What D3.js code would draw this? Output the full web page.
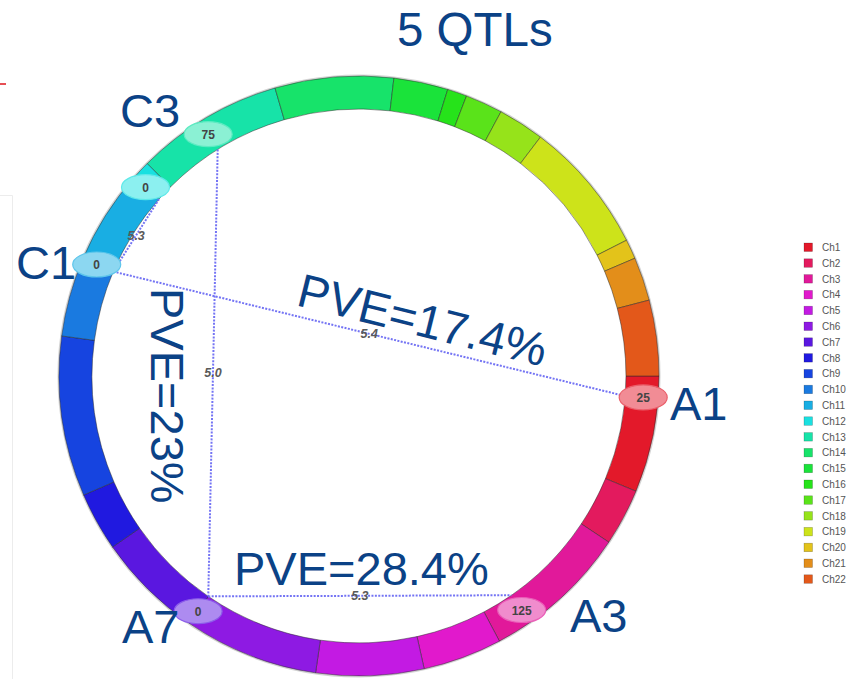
<!DOCTYPE html>
<html>
<head>
<meta charset="utf-8">
<script src="https://cdn.jsdelivr.net/npm/d3@7"></script>
<style>
  html, body { margin: 0; padding: 0; background: #ffffff; }
  svg { display: block; }
</style>
</head>
<body>
<svg id="chart" width="865" height="679"></svg>
<script>
// ---- data ---------------------------------------------------------------
const chromosomes = ["Ch1","Ch2","Ch3","Ch4","Ch5","Ch6","Ch7","Ch8","Ch9","Ch10","Ch11",
                     "Ch12","Ch13","Ch14","Ch15","Ch16","Ch17","Ch18","Ch19","Ch20","Ch21","Ch22"];
const chromLengths = [131, 64, 165, 89, 121, 151, 121, 66, 180, 89, 107,
                      21, 166, 133, 61, 22, 42, 52, 150, 22, 49, 85];
const chromColors = ["#e3192a","#e31a5e","#e1199a","#e119cc","#c31ae3","#8e1ae3","#5a17e0",
                     "#2019e0","#1644e0","#1a7ae0","#19aee3","#19e0e0","#17e3a8","#17e36a",
                     "#1ae33a","#26e31a","#5ae31a","#96e31a","#cde31a","#e3c31a","#e38e1a","#e3581a"];

const qtlIds       = ["A1","A3","A7","C1","C2","C3"];
const qtlChroms    = ["Ch1","Ch3","Ch7","Ch11","Ch12","Ch13"];
const qtlPositions = [25, 125, 0, 0, 0, 75];
const qtlGroupLabels = ["A1","A3","A7","C1","","C3"];

const linkSources = ["C3","C1","A7","C2"];
const linkTargets = ["A7","A1","A3","C1"];
const linkScores  = [5.0, 5.4, 5.3, 5.3];

const pveValues = [17.4, 23, 28.4];
const titleText = "5 QTLs";

// ---- layout -------------------------------------------------------------
const svg = d3.select("#chart");
const cx = 359, cy = 376;
const rInner = 267, rOuter = 300, rMarker = 285, rLink = 267;
const blue = "#0b4286";
const bigFont = "'Liberation Sans', Arial, sans-serif";

// faint panel edge and small red tick at the left margin
svg.append("path").attr("d", "M0,195.5H12.5V679")
   .attr("fill", "none").attr("stroke", "#ececec").attr("stroke-width", 1);
svg.append("line").attr("x1", 0).attr("x2", 6).attr("y1", 84).attr("y2", 84)
   .attr("stroke", "#e0242a").attr("stroke-width", 1.6);

// cumulative offsets along the genome and the angular scale
const offsets = {};
let acc = 0;
chromosomes.forEach((c, i) => { offsets[c] = acc; acc += chromLengths[i]; });
const total = acc;
const angle = d3.scaleLinear().domain([0, total]).range([Math.PI / 2, Math.PI / 2 + 2 * Math.PI]);
const color = d3.scaleOrdinal().domain(chromosomes).range(chromColors);

const g = svg.append("g").attr("transform", `translate(${cx},${cy})`);

// chromosome ring
const arc = d3.arc().innerRadius(rInner).outerRadius(rOuter);
g.append("circle").attr("r", rOuter + 0.6).attr("fill", "none")
 .attr("stroke", "#b5b5b5").attr("stroke-width", 1.8).attr("opacity", 0.6);
g.selectAll("path.chrom")
  .data(chromosomes)
  .join("path")
  .attr("class", "chrom")
  .attr("d", c => arc({ startAngle: angle(offsets[c]),
                        endAngle: angle(offsets[c] + chromLengths[chromosomes.indexOf(c)]) }))
  .attr("fill", c => color(c))
  .attr("stroke", "rgba(40,40,40,0.55)")
  .attr("stroke-width", 0.9);

// QTL positions
const polar = (a, r) => [r * Math.sin(a), -r * Math.cos(a)];
const qtls = qtlIds.map((id, i) => {
  const a = angle(offsets[qtlChroms[i]] + qtlPositions[i]);
  return { id, chrom: qtlChroms[i], pos: qtlPositions[i], a,
           marker: polar(a, rMarker), anchor: polar(a, rLink) };
});
const byId = Object.fromEntries(qtls.map(q => [q.id, q]));

// links between QTLs
const links = linkSources.map((s, i) => ({ s: byId[s], t: byId[linkTargets[i]], score: linkScores[i] }));
g.selectAll("line.link")
  .data(links)
  .join("line")
  .attr("class", "link")
  .attr("x1", d => d.s.anchor[0]).attr("y1", d => d.s.anchor[1])
  .attr("x2", d => d.t.anchor[0]).attr("y2", d => d.t.anchor[1])
  .attr("stroke", "#7474f4")
  .attr("stroke-width", 2)
  .attr("stroke-dasharray", "2,1.4");

g.selectAll("text.score")
  .data(links)
  .join("text")
  .attr("class", "score")
  .attr("x", d => (d.s.anchor[0] + d.t.anchor[0]) / 2)
  .attr("y", d => (d.s.anchor[1] + d.t.anchor[1]) / 2 + 4.5)
  .attr("text-anchor", "middle")
  .attr("font-family", bigFont)
  .attr("font-size", 12.5)
  .attr("font-style", "italic")
  .attr("font-weight", "bold")
  .attr("fill", "#5a5a5a")
  .text(d => d3.format(".1f")(d.score));

// QTL markers
const markers = g.selectAll("g.qtl").data(qtls).join("g")
  .attr("class", "qtl")
  .attr("transform", d => `translate(${d.marker[0]},${d.marker[1]})`);
markers.append("ellipse")
  .attr("rx", 24).attr("ry", 12.5)
  .attr("fill", d => d3.interpolateRgb(color(d.chrom), "#ffffff")(0.5))
  .attr("stroke", d => d3.interpolateRgb(color(d.chrom), "#ffffff")(0.3))
  .attr("stroke-width", 1.2);
markers.append("text")
  .attr("text-anchor", "middle")
  .attr("y", 4.5)
  .attr("font-family", bigFont)
  .attr("font-size", 12)
  .attr("font-weight", "bold")
  .attr("fill", "#444")
  .text(d => d.pos);

// group labels next to the markers
const labelAt = { A1: [670, 420], A3: [570, 632], A7: [122, 643], C1: [16, 279], C3: [120, 127] };
svg.selectAll("text.group")
  .data(qtlGroupLabels.filter(d => d))
  .join("text")
  .attr("class", "group")
  .attr("x", d => labelAt[d][0]).attr("y", d => labelAt[d][1])
  .attr("font-family", bigFont).attr("font-size", 47).attr("fill", blue)
  .text(d => d);

// PVE annotations
const pveLayout = [
  { x: 295, y: 305, rot: 14 },
  { x: 151, y: 288, rot: 90 },
  { x: 234, y: 585, rot: 0 }
];
svg.selectAll("text.pve")
  .data(pveValues)
  .join("text")
  .attr("class", "pve")
  .attr("transform", (d, i) => `translate(${pveLayout[i].x},${pveLayout[i].y}) rotate(${pveLayout[i].rot})`)
  .attr("font-family", bigFont).attr("font-size", 47).attr("fill", blue)
  .text(d => `PVE=${d}%`);

// title
svg.append("text").attr("x", 397).attr("y", 46)
  .attr("font-family", bigFont).attr("font-size", 47.5).attr("fill", blue)
  .text(titleText);

// legend
const legend = svg.append("g").attr("transform", "translate(804,243)");
const row = legend.selectAll("g").data(chromosomes).join("g")
  .attr("transform", (d, i) => `translate(0,${i * 15.8})`);
row.append("rect").attr("width", 8.5).attr("height", 8.5)
  .attr("fill", d => color(d)).attr("stroke", "rgba(0,0,0,0.3)").attr("stroke-width", 0.6);
row.append("text").attr("x", 18).attr("y", 8)
  .attr("font-family", bigFont).attr("font-size", 10).attr("fill", "#555")
  .text(d => d);
</script>
</body>
</html>
